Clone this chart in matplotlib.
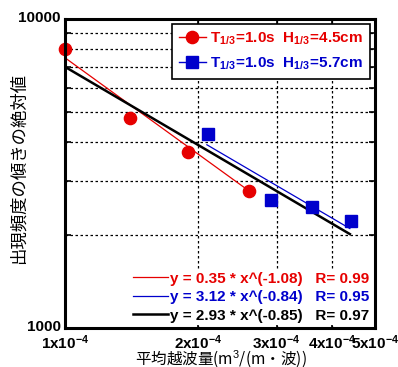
import numpy as np
import matplotlib.pyplot as plt
from matplotlib.ticker import FixedLocator, NullFormatter
from matplotlib.lines import Line2D
from matplotlib.transforms import ScaledTranslation

plt.rcParams['font.family'] = ['Liberation Sans', 'Noto Sans CJK JP', 'DejaVu Sans']
plt.rcParams['mathtext.fontset'] = 'custom'
plt.rcParams['mathtext.rm'] = 'Liberation Sans'
plt.rcParams['mathtext.bf'] = 'Liberation Sans:bold'
plt.rcParams['mathtext.it'] = 'Liberation Sans:italic'

# data
red_x = [1.00e-4, 1.40e-4, 1.89e-4, 2.60e-4]
red_y = [8000, 4780, 3710, 2780]
blue_x = [2.10e-4, 2.91e-4, 3.60e-4, 4.41e-4]
blue_y = [4245, 2600, 2470, 2225]

# fitted lines (end points)
fit_red_x = [1.0e-4, 2.6e-4]
fit_red_y = [7500, 2780]
fit_blue_x = [2.09e-4, 4.39e-4]
fit_blue_y = [3920, 2100]
fit_all_x = [1.0e-4, 4.39e-4]
fit_all_y = [7010, 2015]

leg1_labels = [r'$\mathbf{T_{1/3}\!=\!1.0s\ \ H_{1/3}\!=\!4.5cm}$',
               r'$\mathbf{T_{1/3}\!=\!1.0s\ \ H_{1/3}\!=\!5.7cm}$']
fit_labels = ['y = 0.35 * x^(-1.08)   R= 0.99',
              'y = 3.12 * x^(-0.84)   R= 0.95',
              'y = 2.93 * x^(-0.85)   R= 0.97']
xtick_vals = [1e-4, 2e-4, 3e-4, 4e-4, 5e-4]
xtick_labels = [r'$\mathbf{%dx10^{-4}}$' % i for i in range(1, 6)]

red = '#e60000'
blue = '#0000cc'

fig = plt.figure(figsize=(3.98, 3.67), dpi=100)
ax = fig.add_axes([0.163, 0.106, 0.779, 0.842])

ax.set_xscale('log')
ax.set_yscale('log')
ax.set_xlim(1e-4, 5e-4)
ax.set_ylim(1000, 10000)

# ticks + grid
ax.xaxis.set_major_locator(FixedLocator(xtick_vals))
ax.xaxis.set_minor_locator(FixedLocator([]))
ax.set_xticks(xtick_vals)
ax.set_xticklabels(xtick_labels)
ax.yaxis.set_major_locator(FixedLocator([1000, 10000]))
ax.yaxis.set_minor_locator(FixedLocator([2000, 3000, 4000, 5000, 6000, 7000, 8000, 9000]))
ax.yaxis.set_minor_formatter(NullFormatter())
ax.set_yticklabels(['1000', '10000'], fontweight='bold')
ax.grid(True, which='major', axis='x', color='k', linestyle=(0, (2, 2)), linewidth=0.9)
ax.grid(True, which='minor', axis='y', color='k', linestyle=(0, (2, 2)), linewidth=0.9)
ax.tick_params(which='both', direction='in', top=True, right=True, length=4, width=1.2,
               labelsize=11)
ax.tick_params(axis='x', pad=4)
ax.tick_params(axis='y', pad=3)
ax.set_axisbelow(True)
# nudge the y tick labels up a little like the original
for lab in ax.get_yticklabels():
    lab.set_transform(lab.get_transform() + ScaledTranslation(0, 0.03, fig.dpi_scale_trans))

for s in ax.spines.values():
    s.set_linewidth(2.2)
    s.set_zorder(10)

# fit lines
l_r, = ax.plot(fit_red_x, fit_red_y, color=red, lw=0.9)
l_b, = ax.plot(fit_blue_x, fit_blue_y, color=blue, lw=0.9)
l_k, = ax.plot(fit_all_x, fit_all_y, color='k', lw=1.8)

# points
ax.plot(red_x, red_y, 'o', color=red, ms=8.8, clip_on=False, zorder=5)
ax.plot(blue_x, blue_y, 's', color=blue, ms=9, clip_on=False, zorder=5)

h1 = Line2D([], [], color=red, lw=1, marker='o', ms=8.8)
h2 = Line2D([], [], color=blue, lw=1, marker='s', ms=9)
leg1 = ax.legend([h1, h2], leg1_labels, loc='upper right', fontsize=11,
                 frameon=True, fancybox=False, edgecolor='k', framealpha=1,
                 handlelength=1.75, handletextpad=0.3, labelspacing=0.55,
                 borderpad=0.45, borderaxespad=0.3)
leg1.get_frame().set_linewidth(1.2)
for t, c in zip(leg1.get_texts(), [red, blue]):
    t.set_color(c)
ax.add_artist(leg1)

leg2 = ax.legend([l_r, l_b, l_k], fit_labels, loc='lower right', fontsize=11,
                 frameon=True, fancybox=False, edgecolor='none', framealpha=1,
                 handlelength=2.3, handletextpad=0.15, labelspacing=0.3,
                 borderpad=0.15, borderaxespad=0.2)
for t, c in zip(leg2.get_texts(), [red, blue, 'k']):
    t.set_color(c)
    t.set_fontweight('bold')

ax.set_xlabel('平均越波量(m$^3$/(m・波))', fontsize=11.2,
              family=['Noto Sans CJK JP', 'DejaVu Sans'])
ax.xaxis.set_label_coords(0.503, -0.069)
ax.set_ylabel('出現頻度の傾きの絶対値', fontsize=12.5,
              family=['Noto Sans CJK JP', 'DejaVu Sans'])
ax.yaxis.set_label_coords(-0.12, 0.516)

plt.savefig('out.png', dpi=100)
